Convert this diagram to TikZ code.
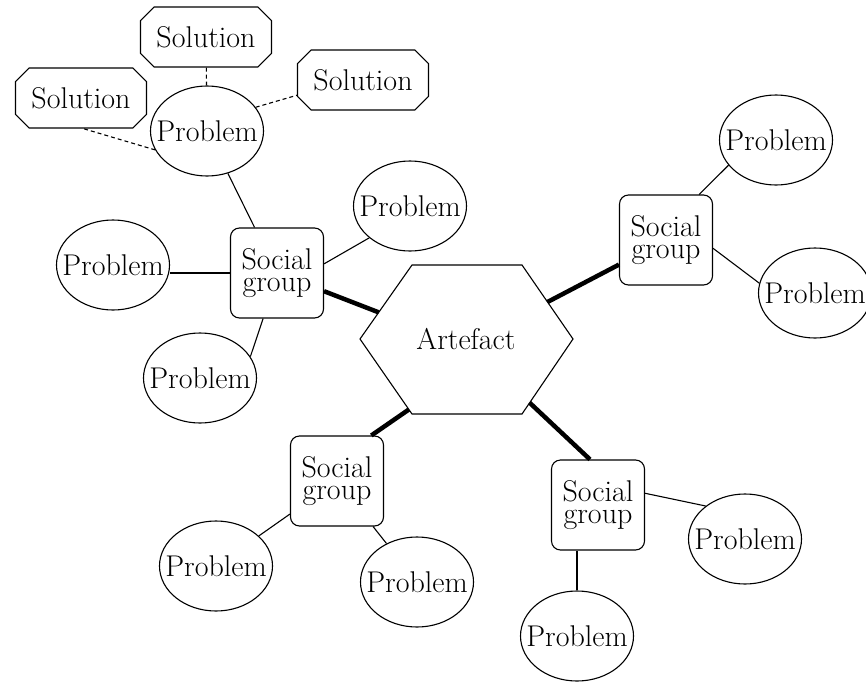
\documentclass[tikz,border=0pt]{standalone}
\usepackage{fontspec}
\usetikzlibrary{shapes.geometric,shapes.misc,calc}

\tikzset{
  prob/.style={ellipse, draw, inner sep=-14pt, minimum width=113pt, minimum height=90pt},
  sgroup/.style={rectangle, draw, rounded corners=9pt, align=center, inner sep=0pt, minimum width=93pt, minimum height=90pt},
  sol/.style={chamfered rectangle, chamfered rectangle xsep=16pt, draw, inner sep=0pt, minimum width=131pt, minimum height=60pt},
  hint/.style={dash pattern=on 4pt off 3pt},
  strong/.style={line width=4.5pt}
}

\begin{document}
\begin{tikzpicture}[x=1pt,y=-1pt,font=\fontsize{30}{22}\selectfont,line width=1.1pt]
\useasboundingbox (0,0) rectangle (866,682);
% artefact
\node (art) at (466,339) {Artefact};
\coordinate (hW) at (360,339);
\coordinate (hNW) at (412,265);
\coordinate (hNE) at (522,265);
\coordinate (hE) at (573,339);
\coordinate (hSE) at (522,414);
\coordinate (hSW) at (412,414);
\draw (hW) -- (hNW) -- (hNE) -- (hE) -- (hSE) -- (hSW) -- cycle;
\coordinate (e1) at ($(hW)!0.36!(hNW)$);
\coordinate (e2) at ($(hNE)!0.5!(hE)$);
\coordinate (e3) at ($(hW)!0.94!(hSW)$);
\coordinate (e4) at ($(hE)!0.85!(hSE)$);
% social groups
\node[sgroup] (g1) at (277,273) {Social\\group};
\node[sgroup] (g2) at (666,240) {Social\\group};
\node[sgroup] (g3) at (337,481) {Social\\group};
\node[sgroup] (g4) at (598,505) {Social\\group};
% problems
\node[prob] (p1) at (207,131) {Problem};
\node[prob] (p2) at (113,265) {Problem};
\node[prob] (p3) at (410,206) {Problem};
\node[prob] (p4) at (200,378) {Problem};
\node[prob] (p5) at (776,140) {Problem};
\node[prob] (p6) at (815,293) {Problem};
\node[prob] (p7) at (216,566) {Problem};
\node[prob] (p8) at (417,582) {Problem};
\node[prob] (p9) at (745,539) {Problem};
\node[prob] (p10) at (577,636) {Problem};
% solutions
\node[sol] (s1) at (206,37) {Solution};
\node[sol] (s2) at (81,98) {Solution};
\node[sol] (s3) at (363,80) {Solution};
% links
\draw[hint] (s1) -- (p1);
\draw[hint] (p1.26) -- (s3.193);
\draw[hint] (p1.200) -- (s2.274);
\draw (g1) -- (p1);
\draw (g1.west) -- (g1.west -| p2.east);
\draw (g1.11) -- (p3.218);
\draw (g1.253) -- (p4.23);
\draw (g2.54) -- (p5.208);
\draw (g2.350) -- (p6.170);
\draw (g3) -- (p7);
\draw (g3) -- (p8);
\draw (g4.14) -- (p9.140);
\draw (p10.north) -- (p10.north |- g4.south);
\draw[strong] (g1) -- (e1);
\draw[strong] (g2) -- (e2);
\draw[strong] (g3.53) -- (e3);
\draw[strong] (g4.100) -- (e4);
\end{tikzpicture}
\end{document}
